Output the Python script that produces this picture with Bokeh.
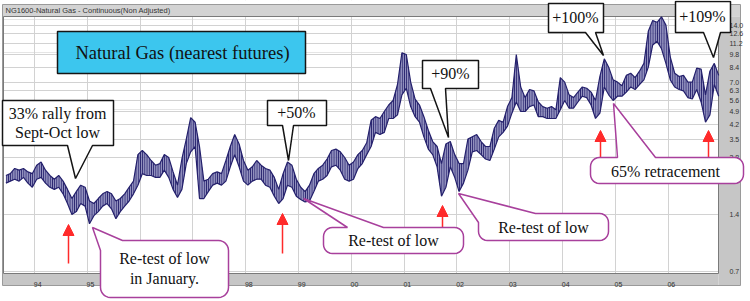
import math
from bokeh.plotting import figure
from bokeh.models import (Range1d, FixedTicker, PrintfTickFormatter, CustomJSTickFormatter,
                          BoxAnnotation, PolyAnnotation, Label, Arrow, NormalHead,
                          ColumnDataSource, LinearAxis, LogAxis, Grid)
from bokeh.embed import file_html
from bokeh.resources import INLINE

# ---------------- data (monthly high / low, nearest natural gas futures) ----------------
first_year, first_month = 1993, 6
high = [
    2.25, 2.30, 2.45, 2.40, 2.45, 2.35, 2.30,                               # 1993 Jun-Dec
    2.55, 2.65, 2.40, 2.25, 2.15, 2.25, 2.10, 1.90, 1.70, 1.85, 2.00, 1.95,  # 1994
    1.65, 1.60, 1.70, 1.80, 1.85, 1.80, 1.65, 1.70, 1.80, 1.95, 2.10, 2.90,  # 1995
    3.05, 2.90, 2.70, 2.55, 2.60, 2.90, 2.80, 2.35, 2.00, 2.75, 3.50, 4.55,  # 1996
    4.30, 3.20, 2.10, 2.15, 2.30, 2.35, 2.30, 2.70, 3.20, 3.70, 3.30, 2.70,  # 1997
    2.40, 2.50, 2.70, 2.55, 2.45, 2.40, 2.20, 1.90, 2.30, 2.65, 2.55, 2.15,  # 1998
    1.95, 1.85, 2.00, 2.30, 2.45, 2.55, 2.75, 3.05, 3.10, 3.00, 2.80, 2.55,  # 1999
    2.65, 2.90, 3.05, 3.35, 4.40, 4.60, 4.50, 4.90, 5.30, 5.60, 6.80, 10.00, # 2000
    9.80, 7.00, 5.70, 5.30, 4.60, 3.90, 3.40, 3.20, 2.60, 3.30, 3.40, 2.90,  # 2001
    2.60, 2.60, 3.50, 3.60, 3.70, 3.40, 3.20, 3.20, 4.00, 4.40, 4.30, 5.20,  # 2002
    5.80, 9.80, 6.60, 5.80, 6.40, 6.30, 5.50, 5.20, 5.10, 5.20, 5.00, 7.40,  # 2003
    7.00, 6.00, 5.80, 6.20, 6.60, 6.50, 6.20, 5.60, 7.50, 9.30, 8.40, 7.20,  # 2004
    7.00, 6.70, 7.60, 7.80, 7.40, 8.00, 8.80, 13.00, 14.80, 14.50, 15.50, 14.00,  # 2005
    9.50, 7.80, 7.50, 7.60, 7.00, 7.00, 8.30, 8.20, 6.00, 8.00, 8.80, 7.60,  # 2006
]
low = [
    2.05, 2.10, 2.15, 2.10, 2.20, 2.05, 1.95,
    2.15, 2.20, 2.05, 1.95, 1.90, 1.95, 1.80, 1.60, 1.40, 1.45, 1.60, 1.55,
    1.25, 1.38, 1.45, 1.55, 1.60, 1.50, 1.33, 1.45, 1.55, 1.65, 1.80, 2.00,
    2.30, 2.25, 2.25, 2.20, 2.20, 2.40, 2.20, 1.90, 1.72, 1.90, 2.60, 3.00,
    3.20, 1.70, 1.70, 1.85, 2.00, 2.05, 2.00, 2.10, 2.50, 2.90, 2.50, 2.10,
    2.00, 2.10, 2.15, 2.15, 2.00, 1.95, 1.75, 1.60, 1.70, 2.00, 1.95, 1.75,
    1.68, 1.63, 1.65, 1.85, 2.10, 2.15, 2.25, 2.50, 2.55, 2.40, 2.15, 2.10,
    2.15, 2.45, 2.60, 2.90, 3.20, 3.80, 3.70, 3.80, 4.50, 4.50, 4.70, 6.00,
    6.50, 5.20, 4.60, 4.30, 3.60, 3.10, 2.90, 2.50, 1.75, 1.95, 2.50, 2.20,
    1.85, 2.05, 2.40, 3.00, 3.05, 2.90, 2.75, 2.70, 3.10, 3.60, 3.80, 4.10,
    4.80, 5.50, 4.90, 4.90, 5.20, 5.30, 4.60, 4.60, 4.50, 4.50, 4.50, 5.00,
    5.60, 5.10, 5.10, 5.50, 5.90, 5.80, 5.30, 4.50, 4.80, 6.60, 6.00, 5.60,
    5.90, 5.90, 6.20, 6.60, 6.40, 6.80, 7.20, 8.40, 11.00, 11.50, 10.50, 8.80,
    7.20, 6.60, 6.40, 6.30, 5.80, 5.70, 6.40, 5.50, 4.30, 4.70, 6.80, 5.90,
]
t = [first_year + (first_month - 1 + i + 0.5) / 12.0 for i in range(len(high))]

year_ticks = list(range(1994, 2007))
y_ticks = [0.7, 1.4, 2.8, 3.5, 4.2, 4.9, 5.6, 6.3, 7.0, 8.4, 9.8, 11.2, 12.6, 14.0]

# ---------------- pixel -> data helpers (layout only) ----------------
T0, T1 = 1993.4129, 2006.9545      # plot area spans x 3..718 px
def X(px):
    return T0 + (px - 3) * (T1 - T0) / 715.0
def Y(py):
    return 0.7 * 2 ** ((271 - py) / 57.0)

NAVY = "#24206C"

# the frame is the whole canvas; axes are pinned at the plot-area edges
p = figure(width=750, height=301, title=None,
           x_range=Range1d(X(0), X(750)), y_range=Range1d(Y(301), Y(0)),
           y_axis_type="log", x_axis_location=None, y_axis_location=None,
           output_backend="svg", toolbar_location=None,
           min_border_left=0, min_border_right=0, min_border_top=0, min_border_bottom=0,
           border_fill_color="white", background_fill_color="white", outline_line_color=None)

p.add_layout(Grid(dimension=0, ticker=FixedTicker(ticks=year_ticks),
                  grid_line_color="#D2D2D2", grid_line_width=1))
p.add_layout(Grid(dimension=1, ticker=FixedTicker(ticks=y_ticks),
                  grid_line_color="#D2D2D2", grid_line_width=1))

def box(l, r, top, bottom, fill, line=None, level="underlay", alpha=1.0):
    p.add_layout(BoxAnnotation(left=X(l), right=X(r), top=Y(top), bottom=Y(bottom),
                               fill_color=fill, fill_alpha=alpha, line_color=line,
                               line_alpha=1.0, line_width=1, level=level))

# white outside the chart frame
box(-10, 2, -10, 310, "white")
box(740, 760, -10, 310, "white")
box(-10, 760, -10, 4, "white")
box(-10, 760, 285, 310, "white")
# grey frame pieces
box(2, 740, 4, 16, "#D3D3D3")
box(718, 740, 16, 285, "#C6C6C6")
box(2, 718, 273, 285, "#C6C6C6")
box(2, 3, 16, 273, "#C6C6C6")
box(2, 740, 4, 285, "white", line="#9A9A9A", alpha=0.0)
box(3, 718, 16, 273, "white", line="#7A7A7A", alpha=0.0)

# axes
xax = LinearAxis(fixed_location=Y(273), ticker=FixedTicker(ticks=[y + 0.06 for y in year_ticks]),
                 formatter=CustomJSTickFormatter(code="return String(Math.floor(tick) % 100).padStart(2, '0');"))
yax = LogAxis(fixed_location=X(718), ticker=FixedTicker(ticks=y_ticks),
              formatter=PrintfTickFormatter(format="%.1f"))
for ax in (xax, yax):
    ax.axis_line_color = None
    ax.major_tick_line_color = None
    ax.minor_tick_line_color = None
    ax.major_label_text_font = "Liberation Sans"
    ax.major_label_text_font_size = "7px"
    ax.major_label_text_color = "#333333"
xax.major_label_standoff = 2
yax.major_label_standoff = 5
p.add_layout(xax, "below")
p.add_layout(yax, "right")

# price bars (dense vertical-bar texture inside the monthly high/low envelope)
src = ColumnDataSource(dict(t=t, high=high, low=low))
p.varea(x="t", y1="low", y2="high", source=src, fill_color="#6E6CA8", fill_alpha=0.75,
        hatch_pattern="vertical_line", hatch_color=NAVY, hatch_scale=2.2,
        hatch_weight=1.3, hatch_alpha=1.0)
p.line(x="t", y="high", source=src, line_color=NAVY, line_width=1.2)
p.line(x="t", y="low", source=src, line_color=NAVY, line_width=1.2)

# title bar text
p.add_layout(Label(x=X(5), y=Y(10), text="NG1600-Natural Gas - Continuous(Non Adjusted)",
                   text_font="Liberation Sans", text_font_size="7.5px", text_color="#333333",
                   text_baseline="middle", text_align="left"))

# ---------------- annotations ----------------
def poly(pts, line_color, lw=1.5, fill="white"):
    p.add_layout(PolyAnnotation(xs=[X(a) for a, _ in pts], ys=[Y(b) for _, b in pts],
                                fill_color=fill, fill_alpha=1.0, line_color=line_color,
                                line_alpha=1.0, line_width=lw))

def text(cx, cy, s, size="16px"):
    p.add_layout(Label(x=X(cx), y=Y(cy), text=s, text_font="Liberation Serif",
                       text_font_size=size, text_color="#111111",
                       text_align="center", text_baseline="middle"))

def rbox(x0, y0, x1, y1, r=9, corner=None, top=None):
    def arc(cx, cy, a0, a1, n=6):
        return [(cx + r * math.cos(math.radians(a0 + (a1 - a0) * k / n)),
                 cy + r * math.sin(math.radians(a0 + (a1 - a0) * k / n))) for k in range(n + 1)]
    pts = []
    pts += corner if corner else arc(x0 + r, y0 + r, 180, 270)
    if top:
        pts += top
    pts += arc(x1 - r, y0 + r, 270, 360)
    pts += arc(x1 - r, y1 - r, 0, 90)
    pts += arc(x0 + r, y1 - r, 90, 180)
    return pts

RED = "#FF2A2A"
def arrow(px, y0, y1):
    p.add_layout(Arrow(end=NormalHead(size=11, fill_color=RED, line_color=RED),
                       x_start=X(px), y_start=Y(y0), x_end=X(px), y_end=Y(y1),
                       line_color=RED, line_width=1.5))

BLACK = "#151515"
PURPLE = "#A8409C"

arrow(68, 263, 224)
arrow(282, 253, 213)
arrow(442, 227, 205)
arrow(600, 157, 130)
arrow(708, 157, 130)

# title box
p.add_layout(BoxAnnotation(left=X(57), right=X(305), top=Y(31), bottom=Y(73),
                           fill_color="#3CC6EE", fill_alpha=1.0, line_color=BLACK,
                           line_alpha=1.0, line_width=1.5))
text(182, 52, "Natural Gas (nearest futures)", "18.5px")

# black callouts
poly([(2, 100), (113, 100), (113, 145), (92, 145), (75, 178), (67, 145), (2, 145)], BLACK)
text(57, 113, "33% rally from")
text(57, 132, "Sept-Oct low")

poly([(267, 100), (326, 100), (326, 125), (293, 125), (288, 160), (282, 125), (267, 125)], BLACK)
text(296, 112, "+50%")

poly([(422, 60), (478, 60), (478, 88), (445, 88), (448, 137), (430, 88), (422, 88)], BLACK)
text(450, 73, "+90%")

poly([(548, 3), (603, 3), (603, 32), (595, 32), (603, 55), (585, 32), (548, 32)], BLACK)
text(575, 17, "+100%")

poly([(675, 1), (730, 1), (730, 32), (720, 32), (713, 57), (703, 32), (675, 32)], BLACK)
text(702, 16, "+109%")

# purple callouts
poly(rbox(100, 240, 228, 297, 10, corner=[(100, 250), (92, 227), (122, 240)]), PURPLE)
text(164, 258, "Re-test of low")
text(164, 278, "in January.")

poly(rbox(323, 227, 463, 253, 9, top=[(347, 227), (303, 198), (383, 227)]), PURPLE)
text(393, 240, "Re-test of low")

poly(rbox(478, 213, 608, 240, 9, corner=[(478, 222), (458, 193), (535, 213)]), PURPLE)
text(543, 227, "Re-test of low")

poly(rbox(590, 157, 743, 183, 9, top=[(617, 157), (613, 103), (655, 157)]), PURPLE)
text(667, 171, "65%  retracement")

open("out.html", "w").write(file_html(p, INLINE))
